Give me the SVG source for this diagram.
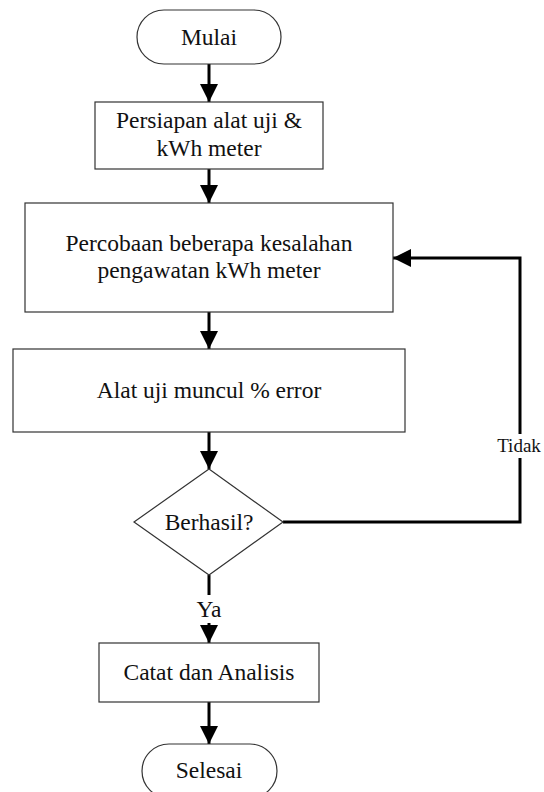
<svg xmlns="http://www.w3.org/2000/svg" width="544" height="792" viewBox="0 0 544 792">
<style>
.box{fill:#fff;stroke:#333;stroke-width:1.2}
.t{font-family:"Liberation Serif","Times New Roman",serif;font-size:23.5px;fill:#111;text-anchor:middle}
.lbl{font-family:"Liberation Serif","Times New Roman",serif;font-size:19px;fill:#111;text-anchor:middle}
.c{fill:none;stroke:#000;stroke-width:3}
</style>
<defs>
<marker id="ah" markerUnits="userSpaceOnUse" markerWidth="18" markerHeight="18" refX="18" refY="9" orient="auto">
<path d="M0,0 L18,9 L0,18 z" fill="#000"/>
</marker>
</defs>
<rect width="544" height="792" fill="#fff"/>
<g id="connectors">
<line class="c" x1="209" y1="64" x2="209" y2="102" marker-end="url(#ah)"/>
<line class="c" x1="209" y1="169" x2="209" y2="203" marker-end="url(#ah)"/>
<line class="c" x1="209" y1="312" x2="209" y2="349" marker-end="url(#ah)"/>
<line class="c" x1="209" y1="432" x2="209" y2="469" marker-end="url(#ah)"/>
<line class="c" x1="209" y1="575" x2="209" y2="643" marker-end="url(#ah)"/>
<line class="c" x1="209" y1="702" x2="209" y2="744" marker-end="url(#ah)"/>
<polyline class="c" points="283,522 520,522 520,258 393,258" marker-end="url(#ah)"/>
<rect x="198" y="595" width="22" height="28" fill="#fff"/>
<text class="t" x="209" y="617">Ya</text>
<rect x="497" y="434" width="46" height="24" fill="#fff"/>
<text class="lbl" x="519" y="452">Tidak</text>
</g>
<g id="mulai">
<rect class="box" x="137" y="10" width="144" height="54" rx="27" ry="27"/>
<text class="t" x="209" y="45">Mulai</text>
</g>
<g id="persiapan">
<rect class="box" x="95" y="102" width="228" height="67"/>
<text class="t" x="209" y="128">Persiapan alat uji &amp;</text>
<text class="t" x="209" y="156">kWh meter</text>
</g>
<g id="percobaan">
<rect class="box" x="25" y="203" width="368" height="109"/>
<text class="t" x="209" y="251">Percobaan beberapa kesalahan</text>
<text class="t" x="209" y="278">pengawatan kWh meter</text>
</g>
<g id="alatuji">
<rect class="box" x="13" y="349" width="392" height="83"/>
<text class="t" x="209" y="398">Alat uji muncul % error</text>
</g>
<g id="berhasil">
<polygon class="box" points="209,469 283,522 209,575 134,522"/>
<text class="t" x="209" y="530">Berhasil?</text>
</g>
<g id="catat">
<rect class="box" x="99" y="643" width="220" height="59"/>
<text class="t" x="209" y="680">Catat dan Analisis</text>
</g>
<g id="selesai">
<rect class="box" x="142" y="744" width="135" height="54" rx="27" ry="27"/>
<text class="t" x="209" y="778">Selesai</text>
</g>
</svg>
